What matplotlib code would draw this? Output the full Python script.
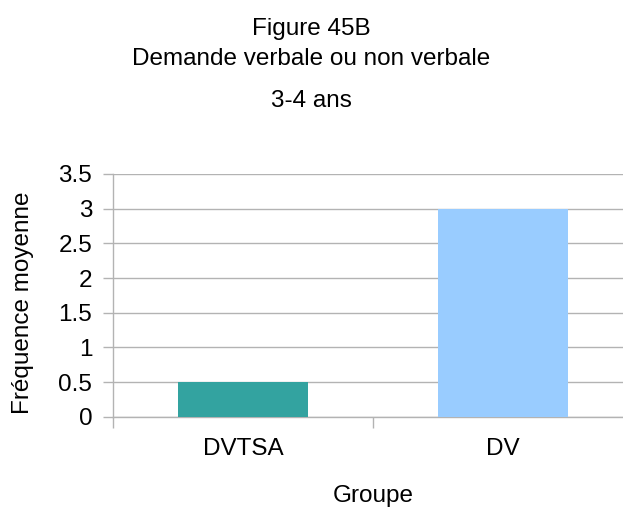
import matplotlib
matplotlib.use('Agg')
import matplotlib.pyplot as plt

plt.rcParams['font.family'] = ['Liberation Sans', 'DejaVu Sans']

groups = ['DVTSA', 'DV']
freq = [0.5, 3.0]
colors = ['#33a3a0', '#99ccff']
yticks = [0, 0.5, 1, 1.5, 2, 2.5, 3, 3.5]

H = 508
fs = 17.5
fig = plt.figure(figsize=(6.23, 5.08), dpi=100)
# axis runs off the right edge of the figure on purpose
ax = fig.add_axes([113 / 623, 1 - 416.7 / H, 520 / 623, (416.7 - 174) / H])

pos = [i + 0.5 for i in range(len(groups))]
ax.bar(pos, freq, width=0.5, color=colors, zorder=3)

ax.set_xlim(0, len(groups))
ax.set_ylim(0, 3.5)
ax.set_yticks(yticks)
ax.set_yticklabels([f'{v:g}' for v in yticks])
ax.yaxis.grid(True, color='#b3b3b3', linewidth=1)
ax.set_axisbelow(True)

# category separators as ticks, labels centred between them
ax.set_xticks(range(len(groups) + 1))
ax.set_xticklabels([])
ax.set_xticks(pos, minor=True)
ax.set_xticklabels(groups, minor=True)
ax.tick_params(axis='x', which='minor', length=0, pad=15, labelsize=fs)
ax.tick_params(axis='x', which='major', length=8, color='#b3b3b3', width=1)
ax.tick_params(axis='y', length=7, color='#b3b3b3', width=1, labelsize=fs, pad=8)

for s in ['top', 'right']:
    ax.spines[s].set_visible(False)
for s in ['left', 'bottom']:
    ax.spines[s].set_color('#b3b3b3')
    ax.spines[s].set_linewidth(1)

fig.text(0.5, 1 - 35 / H, 'Figure 45B', ha='center', va='baseline', fontsize=fs)
fig.text(0.5, 1 - 65 / H, 'Demande verbale ou non verbale', ha='center', va='baseline', fontsize=fs)
fig.text(0.5, 1 - 107 / H, '3-4 ans', ha='center', va='baseline', fontsize=fs)
fig.text(373 / 623, 1 - 502 / H, 'Groupe', ha='center', va='baseline', fontsize=fs)
fig.text(23 / 623, 1 - 303 / H, 'Fréquence moyenne', ha='center', va='center',
         rotation=90, fontsize=fs)

fig.savefig('out.png', dpi=100)
